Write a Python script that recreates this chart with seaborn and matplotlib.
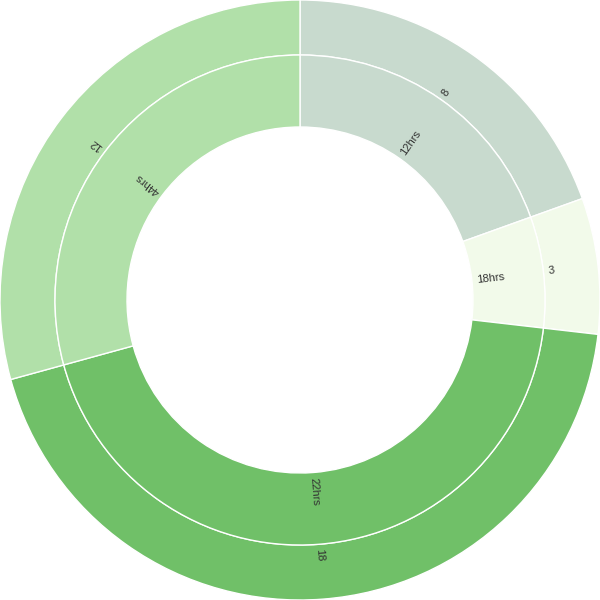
import numpy as np
import matplotlib
matplotlib.use("Agg")
import matplotlib.pyplot as plt
import seaborn as sns

# data
values = [8, 3, 18, 12]
outer_labels = ["8", "3", "18", "12"]
inner_labels = ["12hrs", "18hrs", "22hrs", "44hrs"]
colors = ["#c8dace", "#f2faea", "#70c068", "#b1e0a9"]

sns.set_style("white")
plt.rcParams["font.family"] = ["Liberation Sans", "DejaVu Sans"]

fig = plt.figure(figsize=(6, 6), dpi=100)
ax = fig.add_axes([0, 0, 1, 1])

R_out = 1.0
r_mid = 245 / 300
r_in = 173 / 300

wp = dict(edgecolor="white", linewidth=1.0, antialiased=True)
ax.pie(values, radius=R_out, colors=colors, startangle=90, counterclock=False,
       wedgeprops=dict(width=R_out - r_mid, **wp))
ax.pie(values, radius=r_mid, colors=colors, startangle=90, counterclock=False,
       wedgeprops=dict(width=r_mid - r_in, **wp))

total = sum(values)
cum = np.cumsum([0] + values)
for i, v in enumerate(values):
    mid = (cum[i] + cum[i + 1]) / 2 / total * 360.0  # clockwise from north
    ang = 90.0 - mid  # math angle
    rad = np.deg2rad(ang)
    for lab, r0 in ((outer_labels[i], r_mid + 5 / 300), (inner_labels[i], r_in + 5 / 300)):
        ax.text(r0 * np.cos(rad), r0 * np.sin(rad), lab, rotation=ang,
                rotation_mode="anchor", ha="left", va="center",
                fontsize=8, color="#333333")

ax.set_xlim(-1, 1)
ax.set_ylim(-1, 1)
ax.set_aspect("equal")
ax.axis("off")
fig.savefig("out.png", dpi=100)
